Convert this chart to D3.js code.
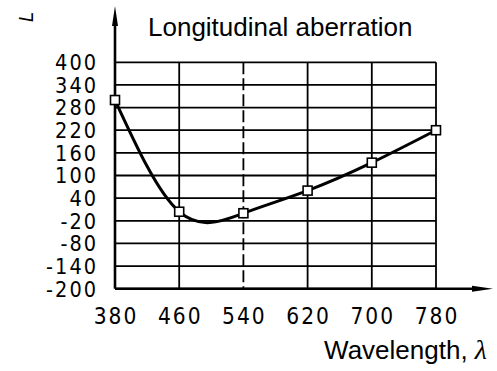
<!DOCTYPE html>
<html>
<head>
<meta charset="utf-8">
<script src="https://cdn.jsdelivr.net/npm/d3@7"></script>
<style>
   body { margin: 0; background: #fff; }
   svg { display: block; }
   .tick-label { font-family: "DejaVu Sans Condensed", "DejaVu Sans", sans-serif; fill: #000; letter-spacing: 2px; }
</style>
</head>
<body>
<div id="chart"></div>
<script>

// DATA
var wavelengths = [380, 460, 540, 620, 700, 780];
var aberration = [300, 4, 0, 60, 134, 220];
var yTicks = [400, 340, 280, 220, 160, 100, 40, -20, -80, -140, -200];
var dashedAt = 540;

// CANVAS SETTINGS
var width = 497, height = 371;

// X-SCALING
var xScale = d3.scaleLinear()
   .domain([380, 780])
   .range([115, 436]);

// Y-SCALING
var yScale = d3.scaleLinear()
   .domain([-200, 400])
   .range([288.7, 62.3]);

// GENERATE GRAPH CANVAS
var canvas = d3.select('#chart').append('svg')
   .attr('width', width)
   .attr('height', height);

// HORIZONTAL GRID LINES
canvas.selectAll('line.hgrid')
   .data(yTicks)
      .enter().append('line')
         .attr('class', 'hgrid')
         .attr('x1', xScale(380))
         .attr('x2', xScale(780))
         .attr('y1', d => yScale(d))
         .attr('y2', d => yScale(d))
         .attr('stroke', '#000')
         .attr('stroke-width', 1.8);

// VERTICAL GRID LINES
canvas.selectAll('line.vgrid')
   .data(wavelengths.slice(1))
      .enter().append('line')
         .attr('class', 'vgrid')
         .attr('x1', d => xScale(d))
         .attr('x2', d => xScale(d))
         .attr('y1', yScale(400))
         .attr('y2', yScale(-200))
         .attr('stroke', '#000')
         .attr('stroke-width', 1.8)
         .attr('stroke-dasharray', d => d == dashedAt ? '12,4' : null);

// AXES WITH ARROWS
canvas.append('line')
   .attr('x1', xScale(380)).attr('x2', 480)
   .attr('y1', yScale(-200)).attr('y2', yScale(-200))
   .attr('stroke', '#000').attr('stroke-width', 2.6);
canvas.append('path')
   .attr('d', 'M' + 493 + ',' + yScale(-200) + 'L' + 472 + ',' + (yScale(-200) - 3) + 'L' + 472 + ',' + (yScale(-200) + 3) + 'Z')
   .attr('fill', '#000');
canvas.append('line')
   .attr('x1', xScale(380)).attr('x2', xScale(380))
   .attr('y1', yScale(-200)).attr('y2', 20)
   .attr('stroke', '#000').attr('stroke-width', 2.6);
canvas.append('path')
   .attr('d', 'M' + xScale(380) + ',6L' + (xScale(380) - 3) + ',26L' + (xScale(380) + 3) + ',26Z')
   .attr('fill', '#000');

// Y TICK LABELS
canvas.selectAll('text.ylab')
   .data(yTicks)
      .enter().append('text')
         .attr('class', 'tick-label ylab')
         .attr('x', 98)
         .attr('y', d => yScale(d) + 7.8)
         .attr('text-anchor', 'end')
         .attr('font-size', 21.5)
         .text(d => d);

// X TICK LABELS
canvas.selectAll('text.xlab')
   .data(wavelengths)
      .enter().append('text')
         .attr('class', 'tick-label xlab')
         .attr('x', d => xScale(d) + 1)
         .attr('y', 324)
         .attr('text-anchor', 'middle')
         .attr('font-size', 22.5)
         .text(d => d);

// CURVE
var line = d3.line()
   .x((d, i) => xScale(wavelengths[i]))
   .y(d => yScale(d))
   .curve(d3.curveNatural);

canvas.append('path')
   .attr('d', line(aberration))
   .attr('fill', 'none')
   .attr('stroke', '#000')
   .attr('stroke-width', 3);

// MARKERS
canvas.selectAll('rect.marker')
   .data(aberration)
      .enter().append('rect')
         .attr('class', 'marker')
         .attr('x', (d, i) => xScale(wavelengths[i]) - 4.5)
         .attr('y', d => yScale(d) - 4.5)
         .attr('width', 9)
         .attr('height', 9)
         .attr('fill', '#fff')
         .attr('stroke', '#000')
         .attr('stroke-width', 1.6);

// TITLE
canvas.append('text')
   .attr('x', 148)
   .attr('y', 36)
   .attr('font-family', 'Liberation Sans, Arial, sans-serif')
   .attr('font-size', 26)
   .attr('fill', '#000')
   .text('Longitudinal aberration');

// Y AXIS LABEL (ROTATED L)
canvas.append('text')
   .attr('transform', 'translate(33,17) rotate(-90)')
   .attr('text-anchor', 'middle')
   .attr('font-family', 'DejaVu Sans Condensed, DejaVu Sans, sans-serif')
   .attr('font-style', 'italic')
   .attr('font-size', 20)
   .attr('fill', '#000')
   .text('L');

// X AXIS LABEL
var xlab = canvas.append('text')
   .attr('x', 487)
   .attr('y', 359)
   .attr('text-anchor', 'end')
   .attr('font-family', 'Liberation Sans, Arial, sans-serif')
   .attr('font-size', 26)
   .attr('fill', '#000');
xlab.append('tspan').text('Wavelength, ');
xlab.append('tspan')
   .attr('font-family', 'Liberation Serif, Times New Roman, serif')
   .attr('font-style', 'italic')
   .attr('font-size', 28)
   .text('\u03bb');

</script>
</body>
</html>
